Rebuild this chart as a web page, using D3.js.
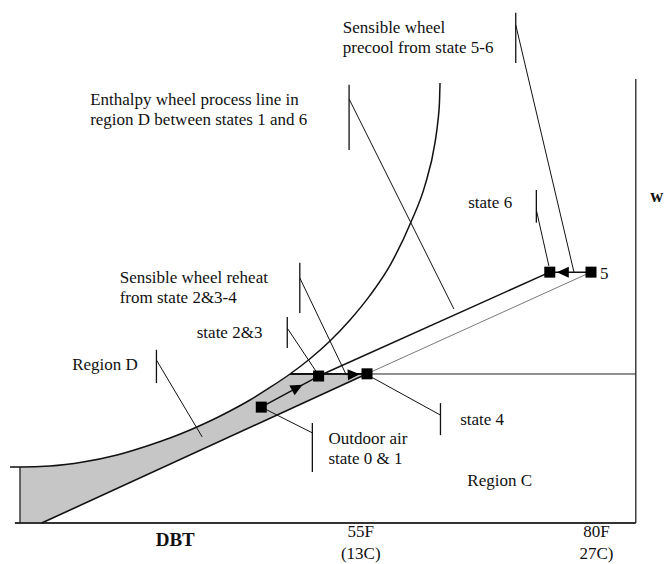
<!DOCTYPE html>
<html><head><meta charset="utf-8">
<script src="https://cdn.jsdelivr.net/npm/d3@7"></script>
<style>
html,body{margin:0;padding:0;background:#fff;}
svg text{font-family:"Liberation Serif","Times New Roman",serif;font-size:17px;fill:#111;}
</style></head>
<body><svg id="c" width="672" height="564"></svg>
<script>
// ---- data (DBT in °F, humidity ratio w in relative units 0-100) ----
const curveDBT = [15.16,16.27,19.62,23.30,27.10,30.78,33.01,35.25,37.48,39.71,41.94,44.17,46.41,48.64,50.87,53.10,55.33,57.57,59.91,61.47,62.59,62.92,63.09,63.15];
const curveW   = [12.61,12.61,12.84,13.74,15.32,17.57,19.14,20.95,22.97,25.23,27.70,30.52,33.56,37.00,40.99,45.72,51.26,58.04,67.79,76.04,85.68,90.61,94.84,99.10];
const shadeEndIndex = 12;           // curve meets region-C boundary here
const lowerLineStart = [18.7, 0];   // lower edge of region D
const regionBoundaryW = 33.56;      // horizontal boundary between regions
const axisDBT = [15.7, 85.0];
const axisW = [0, 100];

const stateNames = ["0&1","2&3","4","5","6"];
const stateDBT   = [43.2, 49.6, 55.0, 80.0, 75.4];
const stateW     = [26.1, 33.1, 33.6, 56.5, 56.5];

// process arrows: from state -> to state, position of tip (fraction)
const arrowFrom = ["0&1","2&3","5"];
const arrowTo   = ["2&3","4","6"];
const arrowTip  = [0.72, 0.85, 0.83];

const tickDBT    = [54.3, 80.6];
const tickLine1  = ["55F","80F"];
const tickLine2  = ["(13C)","27C)"];

// annotations: text lines, anchor, bar, leader target
const annText  = [["Sensible wheel","precool from state 5-6"],
                  ["Enthalpy wheel process line in","region D between states 1 and 6"],
                  ["state 6"],
                  ["Sensible wheel reheat","from state 2&3-4"],
                  ["state 2&3"],
                  ["Region D"],
                  ["state 4"],
                  ["Outdoor air","state 0 & 1"],
                  ["Region C"]];
const annTextDBT = [52.3, 24.1, 66.3, 27.4, 36.0, 22.1, 65.4, 50.7, 66.2];
const annTextW   = [111.7, 95.3, 72.1, 55.2, 43.0, 35.6, 23.4, 19.0, 9.5];
const annBarDBT  = [71.6, 53.0, 73.9, 47.5, 46.1, 31.5, 63.2, 48.9, null];
const annBarW1   = [114.9, 98.7, 75.0, 58.6, 46.4, 39.0, 27.0, 22.5, null];
const annBarW2   = [103.6, 84.0, 67.6, 47.3, 39.4, 31.5, 19.8, 11.5, null];
const annLeadW   = [112.2, 95.5, 70.5, 55.2, 43.9, 36.7, 24.3, 20.3, null];
const annTgtDBT  = [78.1, 64.7, 75.3, 52.7, 49.3, 36.6, 55.1, 43.2, null];
const annTgtW    = [56.5, 48.2, 57.9, 33.3, 34.2, 19.4, 33.3, 26.1, null];

// ---- drawing ----
const svg = d3.select("#c");
const x = d3.scaleLinear().domain([55,80]).range([367,591]);
const y = d3.scaleLinear().domain([0,100]).range([523,79]);
const line = d3.line().x(d=>x(d[0])).y(d=>y(d[1]));
const smooth = d3.line().x(d=>x(d[0])).y(d=>y(d[1])).curve(d3.curveMonotoneX);
const curvePts = curveDBT.map((d,i)=>[d,curveW[i]]);
const st = {}; stateNames.forEach((n,i)=>st[n]=[stateDBT[i],stateW[i]]);

// shaded region D
const topEdge = smooth(curvePts.slice(1, shadeEndIndex+1));
const rest = line([curvePts[shadeEndIndex], st["4"], lowerLineStart, [curveDBT[1],0], curvePts[1]]).replace(/^M/,"L");
svg.append("path").attr("d", topEdge + rest + "Z")
  .attr("fill","#c6c6c6").attr("stroke","none");

// axes
svg.append("path").attr("d", line([[axisDBT[0],axisW[0]],[axisDBT[1],axisW[0]]]))
  .attr("stroke","#333").attr("stroke-width",2).attr("fill","none");
svg.append("path").attr("d", line([[axisDBT[1],axisW[0]],[axisDBT[1],axisW[1]]]))
  .attr("stroke","#222").attr("stroke-width",1.3).attr("fill","none");
// left edge of shaded region
svg.append("path").attr("d", line([[curveDBT[1],0],[curveDBT[1],curveW[1]]]))
  .attr("stroke","#222").attr("stroke-width",1.3).attr("fill","none");

// saturation-like curve
svg.append("path").attr("d", smooth(curvePts))
  .attr("stroke","#111").attr("stroke-width",1.5).attr("fill","none");

// region boundary
svg.append("path").attr("d", line([[curveDBT[shadeEndIndex],regionBoundaryW],[axisDBT[1],regionBoundaryW]]))
  .attr("stroke","#222").attr("stroke-width",1).attr("fill","none");
svg.append("path").attr("d", line([[curveDBT[shadeEndIndex],regionBoundaryW],st["4"]]))
  .attr("stroke","#111").attr("stroke-width",1.8).attr("fill","none");
// lower boundary of region D
svg.append("path").attr("d", line([lowerLineStart, st["4"]]))
  .attr("stroke","#111").attr("stroke-width",1.6).attr("fill","none");
// 4 -> 5 thin line
svg.append("path").attr("d", line([st["4"], st["5"]]))
  .attr("stroke","#555").attr("stroke-width",0.8).attr("fill","none");
// process lines
svg.append("path").attr("d", line([st["0&1"], st["2&3"]]))
  .attr("stroke","#111").attr("stroke-width",1.5).attr("fill","none");
svg.append("path").attr("d", line([st["2&3"], st["6"]]))
  .attr("stroke","#111").attr("stroke-width",1.5).attr("fill","none");
svg.append("path").attr("d", line([st["5"], st["6"]]))
  .attr("stroke","#111").attr("stroke-width",1.5).attr("fill","none");

// leader lines
annText.forEach((t,i)=>{
  if (annBarDBT[i]===null) return;
  svg.append("path").attr("d", line([[annBarDBT[i],annBarW1[i]],[annBarDBT[i],annBarW2[i]]]))
    .attr("stroke","#111").attr("stroke-width",1.3).attr("fill","none");
  svg.append("path").attr("d", line([[annBarDBT[i],annLeadW[i]],[annTgtDBT[i],annTgtW[i]]]))
    .attr("stroke","#111").attr("stroke-width",1).attr("fill","none");
});

// arrowheads
arrowFrom.forEach((f,i)=>{
  const a = st[f], b = st[arrowTo[i]];
  const x0=x(a[0]), y0=y(a[1]), x1=x(b[0]), y1=y(b[1]);
  const t = arrowTip[i];
  const tx = x0+(x1-x0)*t, ty = y0+(y1-y0)*t;
  const ang = Math.atan2(y1-y0, x1-x0);
  const L=12, W=5.5;
  const bx = tx - L*Math.cos(ang), by = ty - L*Math.sin(ang);
  const px = -Math.sin(ang)*W, py = Math.cos(ang)*W;
  svg.append("path").attr("d",`M${tx},${ty}L${bx+px},${by+py}L${bx-px},${by-py}Z`).attr("fill","#000");
});

// state markers
const S = 11;
svg.selectAll("rect.state").data(stateNames).join("rect").attr("class","state")
  .attr("x", n=>x(st[n][0])-S/2).attr("y", n=>y(st[n][1])-S/2)
  .attr("width",S).attr("height",S).attr("fill","#000");

// annotation text
annText.forEach((lines,i)=>{
  lines.forEach((s,j)=>{
    svg.append("text").attr("x", x(annTextDBT[i])).attr("y", y(annTextW[i])+j*20)
      .attr("dominant-baseline","central").text(s);
  });
});
// state 5 label
svg.append("text").attr("x", x(st["5"][0])+9).attr("y", y(st["5"][1])+1)
  .attr("dominant-baseline","central").text("5");
// w label
svg.append("text").attr("x", x(86.6)).attr("y", y(73.6)).attr("dominant-baseline","central")
  .style("font-weight","bold").style("font-size","18px").text("w");
// DBT label
svg.append("text").attr("x", x(33.6)).attr("y", y(-3.8)).attr("text-anchor","middle")
  .attr("dominant-baseline","central").style("font-weight","bold").style("font-size","19px").text("DBT");
// tick labels
tickDBT.forEach((v,i)=>{
  svg.append("text").attr("x",x(v)).attr("y",y(-2.0)).attr("text-anchor","middle")
    .attr("dominant-baseline","central").text(tickLine1[i]);
  svg.append("text").attr("x",x(v)).attr("y",y(-6.8)).attr("text-anchor","middle")
    .attr("dominant-baseline","central").text(tickLine2[i]);
});
</script></body></html>
